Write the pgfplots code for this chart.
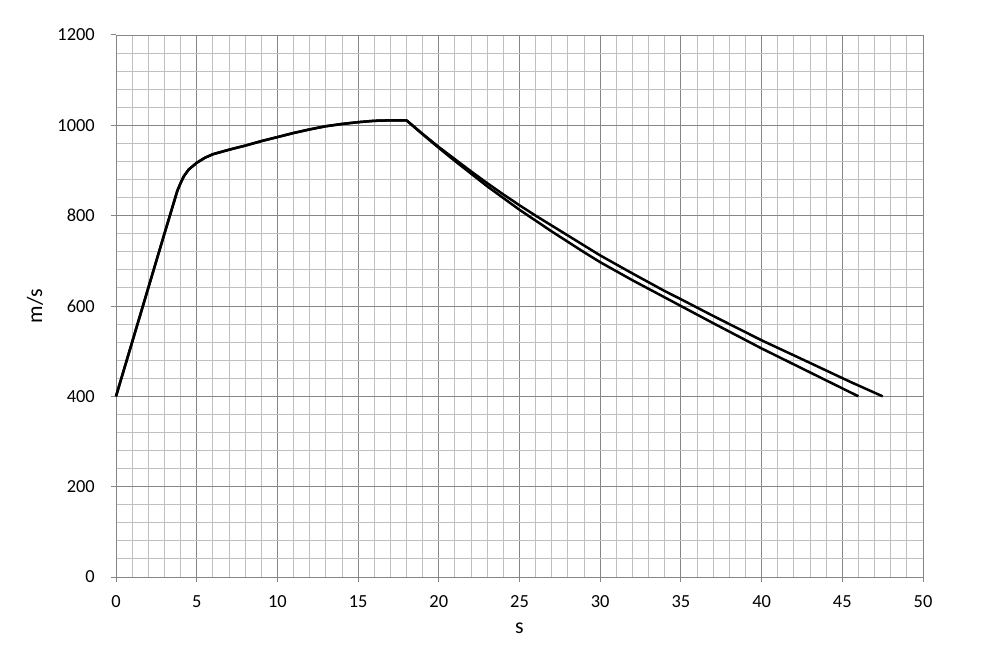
\documentclass[border=0pt]{standalone}
\usepackage{fontspec}
\setmainfont{Carlito}
\usepackage{pgfplots}
\pgfplotsset{compat=1.18}
\definecolor{majgrid}{RGB}{134,134,134}
\definecolor{mingrid}{RGB}{192,192,192}

\begin{document}
\begin{tikzpicture}
\begin{axis}[
  scale only axis,
  width=807bp, height=542bp,
  xmin=0, xmax=50, ymin=0, ymax=1200,
  xtick distance=5, ytick distance=200,
  minor tick num=4,
  grid=both,
  major grid style={majgrid, line width=0.9bp},
  minor grid style={mingrid, line width=0.9bp},
  axis lines*=left,
  axis line style={majgrid, line width=1bp},
  tick align=outside,
  major tick length=5bp, minor tick length=0pt,
  tick style={majgrid, line width=1bp},
  /pgf/number format/assume math mode=true,
  /pgf/number format/1000 sep={},
  ticklabel style={font=\fontsize{18.5}{20}\selectfont, inner sep=0pt},
  yticklabel style={anchor=east, xshift=-16bp},
  xticklabel style={anchor=north, yshift=-13bp},
  xlabel={s}, ylabel={m/s},
  label style={font=\fontsize{22}{24}\selectfont},
  xlabel style={at={(axis description cs:0.5,0)}, anchor=center, yshift=-51bp},
  ylabel style={at={(axis description cs:0,0.5)}, anchor=center, yshift=81bp},
  clip=false,
]
\coordinate (bl) at (rel axis cs:0,0);
\coordinate (tr) at (rel axis cs:1,1);
% lower branch
\addplot[black, line width=2.5bp, line join=round] coordinates {
(0,400)(1,520)(2,640)(3,760)(3.8,855)(4.0,872)(4.2,887)(4.5,902)(5,917)
(5.5,928)(6,936)(7,946)(8,955)(9,965)(10,974)(11,983)(12,991)(13,998)
(14,1003)(15,1007)(16,1010)(17,1011)(18,1011)
(19,980)(20,950)(21,921)(22,893)(23,865)(24,839)(25,813)(26,789)(27,765)
(28,742)(29,719)(30,697)(32,657)(34,619)(35,600)(37,562)(40,506)(43,453)(46,400)
};
% upper branch
\addplot[black, line width=2.5bp, line join=round] coordinates {
(0,400)(1,520)(2,640)(3,760)(3.8,855)(4.0,872)(4.2,887)(4.5,902)(5,917)
(5.5,928)(6,936)(7,946)(8,955)(9,965)(10,974)(11,983)(12,991)(13,998)
(14,1003)(15,1007)(16,1010)(17,1011)(18,1011)
(19,981)(20,952)(21,925)(22,898)(23,872)(24,847)(25,823)(26,800)(27,778)
(28,756)(29,734)(30,712)(32,672)(34,633)(35,615)(37,578)(40,524)(43,474)(45.5,432)(47.5,400)
};
\end{axis}
\path ([shift={(-116bp,-78bp)}]bl) rectangle ([shift={(60bp,35bp)}]tr);
\end{tikzpicture}
\end{document}
